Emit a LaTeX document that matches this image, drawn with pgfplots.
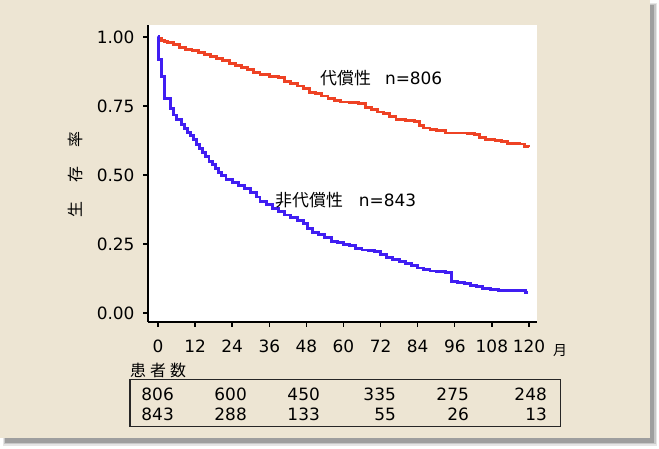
\documentclass[border=0pt]{standalone}
\usepackage{fontspec}
\setmainfont{DejaVu Sans}
\newfontfamily\jp{Noto Sans CJK JP}
\usepackage{pgfplots}
\usepackage{pgfplotstable}
\pgfplotsset{compat=1.18}
\definecolor{bg}{RGB}{237,229,211}
\definecolor{cred}{RGB}{238,66,36}
\definecolor{cblue}{RGB}{64,30,242}

\pgfplotstableread{
t S
0 0.993
1 0.988
2 0.983
3 0.978
5 0.972
7 0.963
9 0.955
11 0.949
13 0.942
15 0.935
17 0.929
19 0.922
21 0.914
23 0.905
25 0.895
27 0.889
29 0.882
31 0.872
33 0.864
36 0.857
39 0.852
41 0.838
43 0.830
45 0.822
47 0.812
49 0.800
51 0.795
53 0.786
55 0.778
57 0.771
59 0.764
62 0.762
65 0.759
67 0.745
69 0.736
71 0.728
73 0.722
75 0.712
77 0.702
80 0.698
83 0.693
84.5 0.680
86 0.670
88 0.666
90 0.660
93 0.652
100 0.650
102.5 0.646
104 0.636
106 0.628
109 0.624
111 0.621
113 0.615
117 0.612
118.5 0.603
120 0.600
}\comp

\pgfplotstableread{
t S
0 1.000
0.2 0.917
1.1 0.856
2.2 0.778
4.1 0.742
4.9 0.717
6 0.700
7.5 0.681
8.5 0.668
9.5 0.655
10.5 0.643
11.5 0.628
12.5 0.610
13.5 0.595
14.5 0.580
15.5 0.566
16.5 0.550
17.5 0.537
18.5 0.524
19.5 0.510
20.5 0.497
22 0.485
24 0.472
26 0.461
28 0.450
30 0.436
32 0.420
33 0.405
35 0.392
37 0.377
39 0.366
41 0.355
43 0.347
45 0.336
47 0.325
48.5 0.305
50 0.293
52 0.283
54 0.272
56 0.260
58 0.254
60 0.248
62 0.243
64 0.235
66 0.228
68 0.225
70 0.222
72 0.212
74 0.202
76 0.195
78 0.186
80 0.180
82 0.172
84 0.163
86 0.158
88 0.152
90 0.150
93 0.146
95 0.115
97 0.110
99 0.107
101 0.101
103 0.097
105 0.090
107.5 0.086
110 0.082
118 0.080
119 0.074
119.7 0.074
}\decomp

\begin{document}
\begin{tikzpicture}[x=1bp,y=1bp]
\path[use as bounding box] (0,0) rectangle (659,449);
\fill[black!10] (3,3) rectangle (657,446);
\fill[black!22] (4,4.5) rectangle (655.5,445);
\fill[black!38] (5,6) rectangle (654,444);
\fill[bg] (0,11) rectangle (650,449);

\begin{axis}[
  at={(148bp,127bp)}, anchor=south west,
  scale only axis, width=389bp, height=297bp,
  xmin=-3.23, xmax=122.6, ymin=-0.0326, ymax=1.043,
  axis x line=bottom, axis y line=left,
  axis line style={-, line width=2.6bp, black},
  axis background/.style={fill=white},
  xtick={0,12,...,120}, ytick={0,0.25,0.5,0.75,1},
  tick align=outside, major tick length=5bp,
  tick style={black, line width=1.4bp},
  /pgf/number format/assume math mode=true,
  tick label style={font=\fontsize{17}{20}\selectfont},
  yticklabel style={xshift=-5bp, /pgf/number format/fixed, /pgf/number format/fixed zerofill, /pgf/number format/precision=2},
  xticklabel style={yshift=-9bp, /pgf/number format/fixed},
  clip=false,
]
\addplot[const plot, color=cred, line width=2.9bp] table[x=t,y=S] {\comp};
\addplot[const plot, color=cblue, line width=2.9bp] table[x=t,y=S] {\decomp};
\end{axis}

\node[anchor=west, inner sep=0pt, font=\fontsize{17}{20}\selectfont] at (320,371) {{\jp 代償性}\hspace{14bp}n=806};
\node[anchor=west, inner sep=0pt, font=\fontsize{17}{20}\selectfont] at (275,249) {{\jp 非代償性}\hspace{16bp}n=843};
\node[rotate=90, inner sep=0pt] at (75.5,274.5) {\jp\fontsize{16}{16}\selectfont 生\hspace{19bp}存\hspace{19bp}率};
\node[inner sep=0pt] at (560,98) {\jp\fontsize{14}{14}\selectfont 月};
\node[anchor=west, inner sep=0pt] at (130,79) {\jp\fontsize{16}{16}\selectfont 患\hspace{4bp}者\hspace{4bp}数};
\draw[line width=1.2bp, black!85] (130,22.7) rectangle (560.7,69.7);
\foreach \x/\a/\b in {174/806/843, 247/600/288, 320/450/133, 396/335/55, 469/275/26, 547/248/13} {
  \node[anchor=east, inner sep=0pt, font=\fontsize{17}{20}\selectfont] at (\x,55) {\a};
  \node[anchor=east, inner sep=0pt, font=\fontsize{17}{20}\selectfont] at (\x,35) {\b};
}
\end{tikzpicture}
\end{document}
